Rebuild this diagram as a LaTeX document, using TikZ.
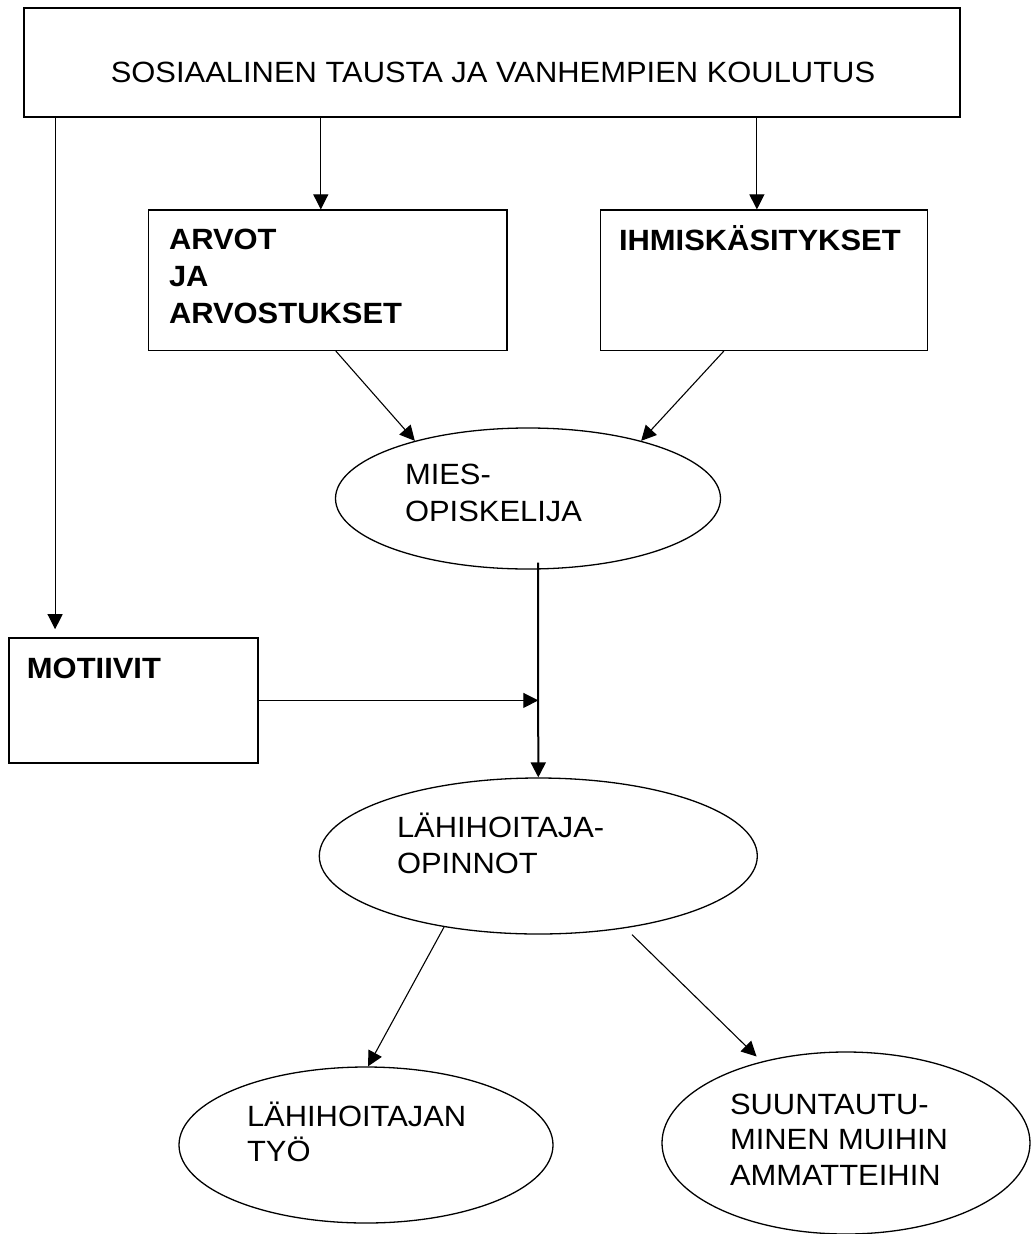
\documentclass[tikz,border=0pt]{standalone}
\usepackage{fontspec}
\setmainfont{Liberation Sans}[FakeStretch=1.055]
\usetikzlibrary{arrows.meta,shapes.geometric}
\begin{document}
\begin{tikzpicture}[x=1pt,y=-1pt,
  boxthin/.style={draw,rectangle,line width=1.1pt,inner sep=0pt},
  boxthick/.style={draw,rectangle,line width=1.7pt,inner sep=0pt},
  oval/.style={draw,ellipse,line width=1.3pt,inner sep=0pt},
  txt/.style={anchor=base west,inner sep=0pt,outer sep=0pt,font=\fontsize{29.3pt}{36.5pt}\selectfont},
  arr/.style={line width=1.1pt,-{Triangle[length=15pt,width=15pt]}},
  plain/.style={line width=1pt}]
\path[fill=white,use as bounding box] (0,0) rectangle (1031,1234);

% shapes
\node[boxthick,minimum width=936pt,minimum height=109pt] (top) at (492,62.5) {};
\node[boxthin,minimum width=358.3pt,minimum height=140.5pt] (arvot) at (327.8,280.2) {};
\node[boxthin,minimum width=327.7pt,minimum height=140.5pt] (ihmis) at (763.9,280.2) {};
\node[boxthick,minimum width=249.3pt,minimum height=124.7pt] (mot) at (133.3,700.4) {};
\node[oval,minimum width=385pt,minimum height=141pt] (mies) at (528,498.5) {};
\node[oval,minimum width=438pt,minimum height=156pt] (lahi) at (538.3,856) {};
\node[oval,minimum width=374pt,minimum height=156pt] (tyo) at (366,1145) {};
\node[oval,minimum width=368pt,minimum height=182pt] (suun) at (846,1143) {};

% texts
\node[txt,anchor=base] (ttop) at (493,82.7) {SOSIAALINEN TAUSTA JA VANHEMPIEN KOULUTUS};
\node[txt] (tarvot) at (169,249) {\bfseries\vtop{\baselineskip=37pt\hbox{ARVOT}\hbox{JA}\hbox{ARVOSTUKSET}}};
\node[txt] (tihmis) at (619,250) {\bfseries IHMISKÄSITYKSET};
\node[txt] (tmot) at (27,678.7) {\bfseries MOTIIVIT};
\node[txt] (tmies) at (405,484) {\vtop{\baselineskip=37.5pt\hbox{MIES-}\hbox{OPISKELIJA}}};
\node[txt] (tlahi) at (397,837.3) {\vtop{\baselineskip=36pt\hbox{LÄHIHOITAJA-}\hbox{OPINNOT}}};
\node[txt] (ttyo) at (247,1126) {\vtop{\baselineskip=35.7pt\hbox{LÄHIHOITAJAN}\hbox{TYÖ}}};
\node[txt] (tsuun) at (730,1114) {\vtop{\baselineskip=35.8pt\hbox{SUUNTAUTU-}\hbox{MINEN MUIHIN}\hbox{AMMATTEIHIN}}};

% connectors
\draw[arr] ([xshift=-7pt]arvot.north |- top.south) -- ([xshift=-7pt]arvot.north);
\draw[arr] ([xshift=-7pt]ihmis.north |- top.south) -- ([xshift=-7pt]ihmis.north);
\draw[arr] ([xshift=47.3pt]mot.north west |- top.south) -- ([xshift=47.3pt,yshift=8pt]mot.north west);
\draw[arr] ([xshift=8pt]arvot.south) -- (mies.153.8);
\draw[arr] ([xshift=-40pt]ihmis.south) -- (mies.27.9);
\draw[arr,line width=2pt] ([xshift=10pt,yshift=7pt]mies.south) -- (lahi.north);
\draw[arr] (mot.east) -- (mot.east -| lahi.north);
\draw[arr] (lahi.217) -- ([xshift=2pt]tyo.north);
\draw[arr] ([xshift=93.7pt]lahi.south) -- ([shift={(-5,-5)}]suun.136.6);
\end{tikzpicture}
\end{document}
